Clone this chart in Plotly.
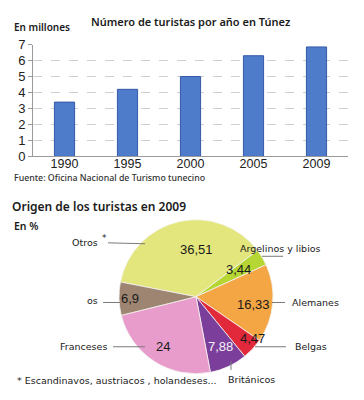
import plotly.graph_objects as go

# ---- data ----
years = ["1990", "1995", "2000", "2005", "2009"]
tourists_millions = [3.4, 4.2, 5.0, 6.3, 6.85]

origins = ["Otros", "Argelinos y libios", "Alemanes", "Belgas", "Británicos", "Franceses", "os"]
shares = [36.51, 3.44, 16.33, 4.47, 7.88, 24, 6.9]
slice_colors = ["#e3e67c", "#b6d634", "#f4a544", "#e2293b", "#7b3f9b", "#e89ccb", "#9d8571"]

W, H = 364, 400


def px(x, y):
    return x / W, 1 - y / H


fig = go.Figure()

fig.add_trace(go.Bar(
    x=years, y=tourists_millions, width=0.32,
    marker=dict(color="#4f7bcb", line=dict(color="#3559a8", width=1)),
    xaxis="x", yaxis="y", showlegend=False, hoverinfo="skip",
))

fig.add_trace(go.Pie(
    labels=origins, values=shares, sort=False, direction="clockwise",
    rotation=-79, textinfo="none", hoverinfo="skip", showlegend=False,
    marker=dict(colors=slice_colors, line=dict(color="#f4f4f0", width=0.8)),
    domain=dict(x=[116 / W, 276 / W], y=[1 - 381 / H, 1 - 221 / H]),
))

NUM_FONT = "Liberation Sans, Arial, sans-serif"
TXT_FONT = "DejaVu Sans, Verdana, sans-serif"
HEAD_FONT = "Noto Sans, Open Sans, sans-serif"

fig.update_layout(
    width=W, height=H, margin=dict(l=0, r=0, t=0, b=0),
    paper_bgcolor="white", plot_bgcolor="white",
    xaxis=dict(domain=[33 / W, 348 / W], type="category", showgrid=False,
               showline=True, linecolor="#9a9a9a", linewidth=1, ticks="",
               tickfont=dict(family=NUM_FONT, size=12.5, color="#222"),
               ticklabelstandoff=-4,
               anchor="y", fixedrange=True),
    yaxis=dict(domain=[1 - 155.3 / H, 1 - 39 / H], range=[0, 7], dtick=1,
               showgrid=True, gridcolor="#cfcfcf", griddash="dash", gridwidth=1,
               showline=True, linecolor="#9a9a9a", linewidth=1, ticks="outside",
               ticklen=4, tickcolor="#9a9a9a", zeroline=False,
               tickfont=dict(family=NUM_FONT, size=13, color="#222"),
               anchor="x", fixedrange=True),
)

ann = []


def text(x, y, s, size, anchor="center", color="#1a1a1a", family=TXT_FONT, weight="normal"):
    ax, ay = px(x, y)
    ann.append(dict(x=ax, y=ay, xref="paper", yref="paper", text=s, showarrow=False,
                    xanchor=anchor, yanchor="middle",
                    font=dict(family=family, size=size, color=color, weight=weight)))


# bar chart texts
text(190, 15, "Número de turistas por año en Túnez", 11, family=HEAD_FONT, weight=600)
text(12, 21, "En millones", 10, anchor="left", family=HEAD_FONT, weight=600)
text(12, 178, "Fuente: Oficina Nacional de Turismo tunecino", 8.8, anchor="left",
     color="#333", family=HEAD_FONT, weight=500)

# pie texts
text(10, 207, "Origen de los turistas en 2009", 12, anchor="left", family=HEAD_FONT, weight=600)
text(12, 228, "En %", 10.5, anchor="left", family=HEAD_FONT, weight=600)

# value labels
vals_txt = [f"{v:g}".replace(".", ",") for v in shares]
val_pos = [(196, 252), (238, 273), (253, 309), (252, 344), (220, 353), (163, 353), (130, 303)]
for i, (s, (x, y)) in enumerate(zip(vals_txt, val_pos)):
    c = "#f4f0f8" if origins[i] == "Británicos" else "#1a1a1a"
    text(x, y, s, 13, family=NUM_FONT, color=c)

# name labels
text(100, 245, "Otros", 9.5, anchor="right")
text(104, 240, "*", 9, anchor="center")
text(280, 251, "Argelinos y libios", 9.5)
text(290, 307, "Alemanes", 9.5, anchor="left")
text(293, 353, "Belgas", 9.5, anchor="left")
text(251, 387, "Británicos", 9.5)
text(109, 353, "Franceses", 9.5, anchor="right")
text(100, 305, "os", 9.5, anchor="right")
text(15, 388, "* Escandinavos, austriacos , holandeses...", 9.5, anchor="left")

fig.update_layout(annotations=ann)

# leader lines
leaders = [((108, 245), (145, 246)), ((262, 259), (283, 259)), ((272, 307), (285, 307)),
           ((255, 353), (286, 353)), ((231, 368), (231, 377)), ((113, 353), (145, 353)),
           ((103, 307), (120, 307))]
shapes = []
for (x0, y0), (x1, y1) in leaders:
    a0, b0 = px(x0, y0)
    a1, b1 = px(x1, y1)
    shapes.append(dict(type="line", xref="paper", yref="paper", x0=a0, y0=b0, x1=a1, y1=b1,
                       line=dict(color="#7a7a7a", width=1)))
fig.update_layout(shapes=shapes)

fig.write_html("out.html", config={"displayModeBar": False},
               post_script="document.body.style.margin='0';")
